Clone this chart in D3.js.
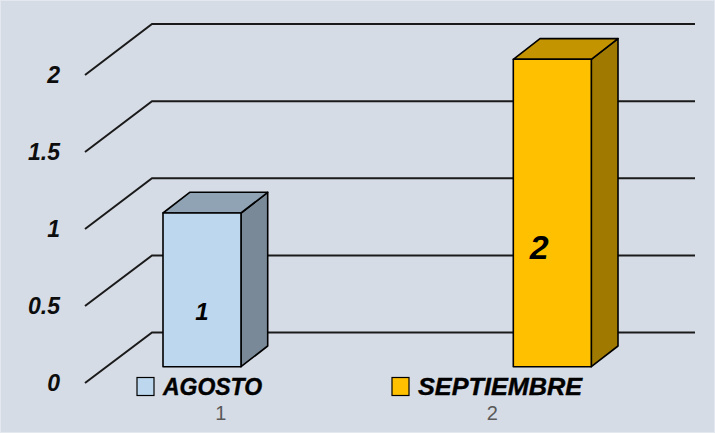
<!DOCTYPE html>
<html>
<head>
<meta charset="utf-8">
<script src="https://cdn.jsdelivr.net/npm/d3@7"></script>
<style>
html,body{margin:0;padding:0;background:#d6dce5;}
svg{display:block;}
</style>
</head>
<body>
<svg id="chart" width="715" height="433"></svg>
<script>
const categories = ["AGOSTO", "SEPTIEMBRE"];
const values = [1, 2];
const tickLabels = ["1", "2"];
const yTicks = [0, 0.5, 1, 1.5, 2];
const frontColors = ["#bdd7ee", "#ffc000"];
const topColors = ["#8fa3b4", "#c49300"];
const sideColors = ["#7a8998", "#a07a00"];

const svg = d3.select("#chart");
svg.append("rect").attr("x",0.5).attr("y",0.5).attr("width",714).attr("height",432)
  .attr("fill","#d6dce5").attr("stroke","#e4e8ef").attr("stroke-width",1);

// scales
const yFront = d3.scaleLinear().domain([0, 2]).range([383, 75]);
const yBack = d3.scaleLinear().domain([0, 2]).range([332.5, 24]);
const yBar = d3.scaleLinear().domain([0, 2]).range([366.7, 59.3]);
const xWallLeft = 85, xWallBack = 152, xRight = 695;
const xCat = d3.scaleBand().domain(categories).range([85, 628]);
const xBar = d3.scalePoint().domain(categories).range([163, 513.3]);
const barW = 78, bdx = 26.7, bdy = -20.7;
const xLegend = d3.scalePoint().domain(categories).range([137, 392]);
const legendTextLen = [99, 164];

// gridlines
const g = svg.append("g");
yTicks.forEach(v => {
  g.append("path")
    .attr("d", `M${xWallLeft},${yFront(v)}L${xWallBack},${yBack(v)}L${xRight},${yBack(v)}`)
    .attr("fill","none").attr("stroke","#1a1a1a").attr("stroke-width",2);
  svg.append("text")
    .attr("x", 60).attr("y", yFront(v)).attr("dy","0.36em")
    .attr("text-anchor","end")
    .attr("font-family","'Liberation Sans', Arial, sans-serif")
    .attr("font-weight","bold").attr("font-style","italic")
    .attr("font-size",23).attr("fill","#0d0d0d")
    .text(v);
});

// bars
categories.forEach((c, i) => {
  const x0 = xBar(c), x1 = x0 + barW;
  const yt = yBar(values[i]), yb = yBar(0);
  const bg = svg.append("g").attr("stroke","#000").attr("stroke-width",1.6).attr("stroke-linejoin","round");
  bg.append("path")
    .attr("d", `M${x1},${yt}L${x1+bdx},${yt+bdy}L${x1+bdx},${yb+bdy}L${x1},${yb}Z`)
    .attr("fill", sideColors[i]);
  bg.append("path")
    .attr("d", `M${x0},${yt}L${x0+bdx},${yt+bdy}L${x1+bdx},${yt+bdy}L${x1},${yt}Z`)
    .attr("fill", topColors[i]);
  bg.append("rect").attr("x", x0).attr("y", yt).attr("width", barW).attr("height", yb - yt)
    .attr("fill", frontColors[i]);
});

// value labels
const labelPos = [0.36, 0.39];
const labelSize = [24, 34];
const labelDx = [0, -13];
categories.forEach((c, i) => {
  svg.append("text")
    .attr("x", xBar(c) + barW/2 + labelDx[i])
    .attr("y", yBar(values[i]*labelPos[i])).attr("dy","0.36em")
    .attr("text-anchor","middle")
    .attr("font-family","'Liberation Sans', Arial, sans-serif")
    .attr("font-weight","bold").attr("font-style","italic")
    .attr("font-size", labelSize[i]).attr("fill","#000")
    .text(values[i]);
});

// legend entries
categories.forEach((c, i) => {
  const lx = xLegend(c);
  svg.append("rect").attr("x", lx).attr("y", 377.5).attr("width", 17).attr("height", 18)
    .attr("fill", frontColors[i]).attr("stroke","#000").attr("stroke-width",1.2);
  svg.append("text")
    .attr("x", lx + 26).attr("y", 394.5)
    .attr("font-family","'Liberation Sans', Arial, sans-serif")
    .attr("font-weight","bold").attr("font-style","italic")
    .attr("font-size",23).attr("fill","#000")
    .attr("stroke","#000").attr("stroke-width",0.4)
    .attr("textLength", legendTextLen[i]).attr("lengthAdjust","spacingAndGlyphs")
    .text(c);
});

// category tick labels
categories.forEach((c, i) => {
  svg.append("text")
    .attr("x", xCat(c) + xCat.bandwidth()/2).attr("y", 420)
    .attr("text-anchor","middle")
    .attr("font-family","'Liberation Sans', Arial, sans-serif")
    .attr("font-size",20).attr("fill","#595959")
    .text(tickLabels[i]);
});
</script>
</body>
</html>
